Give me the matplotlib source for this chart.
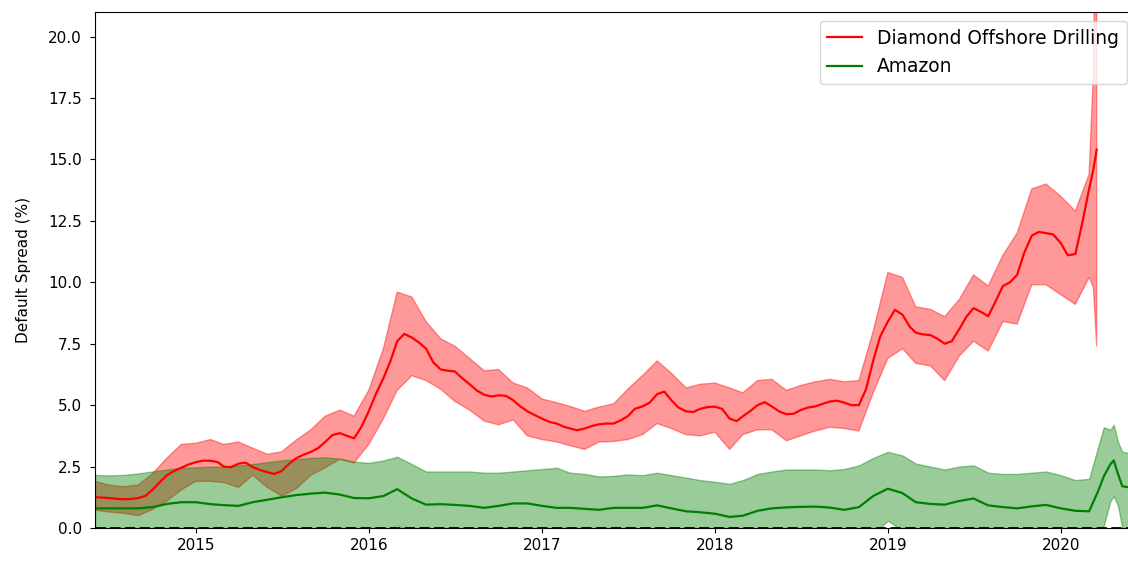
import matplotlib
matplotlib.use("Agg")
import matplotlib.pyplot as plt
import pandas as pd

# ---------------- data ----------------
red_name = "Diamond Offshore Drilling"
green_name = "Amazon"

months = [f"{y}-{m:02d}" for y in range(2014, 2021) for m in range(1, 13)]
band_months = [m for m in months if "2014-07" <= m <= "2020-03"]
line_months = [m for m in months if "2014-07" <= m <= "2020-02"]

# red line: twice a month
red_line_dates = ["2014-06-02", "2014-06-16"] + \
    [d for m in line_months for d in (m + "-01", m + "-16")] + \
    ["2020-03-01", "2020-03-10", "2020-03-17"]
red_mid = [1.25, 1.24, 1.22, 1.19, 1.17, 1.18, 1.22, 1.30, 1.55, 1.85, 2.15, 2.32, 2.45, 2.58,
           2.68, 2.74, 2.74, 2.68, 2.50, 2.47, 2.62, 2.66, 2.48, 2.36, 2.27, 2.20,
           2.32, 2.60, 2.84, 2.98, 3.10, 3.25, 3.50, 3.78, 3.86, 3.75, 3.65, 4.10,
           4.75, 5.45, 6.10, 6.80, 7.60, 7.90, 7.75, 7.55, 7.30, 6.75, 6.45, 6.40,
           6.37, 6.10, 5.85, 5.60, 5.42, 5.35, 5.40, 5.38, 5.20, 4.95, 4.75, 4.60,
           4.45, 4.32, 4.25, 4.12, 4.05, 3.98, 4.05, 4.15, 4.22, 4.25, 4.25, 4.38,
           4.55, 4.85, 4.95, 5.10, 5.45, 5.55, 5.20, 4.90, 4.75, 4.72, 4.85, 4.92,
           4.94, 4.85, 4.45, 4.35, 4.55, 4.75, 5.00, 5.12, 4.95, 4.75, 4.63, 4.65,
           4.80, 4.90, 4.95, 5.05, 5.15, 5.18, 5.10, 5.00, 5.00, 5.65, 6.80, 7.80,
           8.40, 8.88, 8.68, 8.20, 7.95, 7.88, 7.85, 7.70, 7.50, 7.60, 8.10, 8.60,
           8.95, 8.80, 8.62, 9.20, 9.85, 10.00, 10.30, 11.20, 11.90, 12.05, 12.00, 11.95,
           11.60, 11.10, 11.15, 12.45, 13.80, 14.60, 15.40]

# red band: monthly
red_band_dates = ["2014-06-02"] + [m + "-01" for m in band_months] + ["2020-03-10", "2020-03-17"]
red_hi = [1.90, 1.75, 1.68, 1.75, 2.20, 2.85, 3.40,
          3.45, 3.60, 3.40, 3.50, 3.25, 3.00, 3.10, 3.58, 4.00, 4.55, 4.80, 4.55,
          5.60, 7.30, 9.60, 9.40, 8.40, 7.70, 7.40, 6.90, 6.40, 6.45, 5.90, 5.70,
          5.25, 5.10, 4.95, 4.75, 4.92, 5.05, 5.65, 6.20, 6.80, 6.30, 5.70, 5.85,
          5.90, 5.70, 5.50, 6.00, 6.05, 5.60, 5.80, 5.95, 6.05, 5.95, 6.00, 8.00,
          10.40, 10.20, 9.00, 8.90, 8.60, 9.30, 10.30, 9.85, 11.10, 12.00, 13.80, 14.00,
          13.50, 12.90, 14.40, 18.50, 30.00]
red_lo = [0.73, 0.65, 0.60, 0.50, 0.75, 1.10, 1.55,
          1.90, 1.90, 1.85, 1.65, 2.15, 1.65, 1.30, 1.60, 2.15, 2.45, 2.80, 2.65,
          3.40, 4.45, 5.60, 6.20, 6.00, 5.65, 5.15, 4.80, 4.35, 4.20, 4.40, 3.75,
          3.60, 3.50, 3.35, 3.20, 3.50, 3.52, 3.60, 3.80, 4.25, 4.05, 3.80, 3.75,
          3.90, 3.20, 3.80, 4.00, 4.00, 3.55, 3.75, 3.95, 4.10, 4.05, 3.95, 5.50,
          6.90, 7.30, 6.70, 6.60, 6.00, 7.00, 7.60, 7.20, 8.40, 8.30, 9.90, 9.90,
          9.50, 9.10, 10.20, 9.80, 7.40]

# green: monthly plus extra points in spring 2020
green_dates = ["2014-06-02"] + [m + "-01" for m in band_months] + \
    ["2020-03-20", "2020-04-01", "2020-04-15", "2020-04-22", "2020-05-01", "2020-05-10", "2020-06-10"]
green_mid = [0.80, 0.80, 0.80, 0.80, 0.85, 0.98, 1.05,
             1.05, 0.97, 0.93, 0.90, 1.05, 1.15, 1.25, 1.34, 1.40, 1.44, 1.36, 1.22,
             1.21, 1.30, 1.58, 1.20, 0.95, 0.97, 0.94, 0.90, 0.82, 0.90, 1.00, 1.00,
             0.90, 0.82, 0.82, 0.78, 0.74, 0.82, 0.82, 0.82, 0.92, 0.80, 0.68, 0.64,
             0.58, 0.45, 0.50, 0.70, 0.80, 0.84, 0.86, 0.87, 0.83, 0.74, 0.85, 1.30,
             1.60, 1.42, 1.05, 0.98, 0.95, 1.10, 1.20, 0.92, 0.85, 0.80, 0.88, 0.94,
             0.80, 0.70, 0.68, 1.50, 2.10, 2.60, 2.75, 2.20, 1.70, 1.60]
green_hi = [2.16, 2.14, 2.16, 2.22, 2.30, 2.38, 2.45,
            2.47, 2.50, 2.50, 2.55, 2.60, 2.68, 2.75, 2.80, 2.85, 2.88, 2.82, 2.70,
            2.65, 2.75, 2.90, 2.60, 2.30, 2.30, 2.30, 2.30, 2.25, 2.25, 2.30, 2.35,
            2.40, 2.45, 2.25, 2.20, 2.10, 2.12, 2.18, 2.15, 2.25, 2.15, 2.05, 1.95,
            1.88, 1.80, 1.95, 2.20, 2.30, 2.38, 2.38, 2.38, 2.35, 2.40, 2.55, 2.85,
            3.10, 2.95, 2.62, 2.50, 2.38, 2.50, 2.55, 2.25, 2.20, 2.20, 2.25, 2.30,
            2.15, 1.95, 2.00, 3.30, 4.10, 4.00, 4.20, 3.50, 3.10, 3.00]
green_lo = [-0.56, -0.54, -0.56, -0.62, -0.60, -0.42, -0.35,
            -0.37, -0.56, -0.64, -0.75, -0.50, -0.38, -0.25, -0.12, -0.05, -0.10, -0.10, -0.26,
            -0.23, -0.15, 0.12, -0.20, -0.40, -0.36, -0.42, -0.50, -0.61, -0.45, -0.30, -0.35,
            -0.60, -0.81, -0.61, -0.64, -0.62, -0.48, -0.54, -0.51, -0.41, -0.55, -0.69, -0.67,
            -0.72, -0.90, -0.95, -0.80, -0.70, -0.70, -0.66, -0.64, -0.69, -0.92, -0.85, -0.25,
            0.30, -0.11, -0.52, -0.54, -0.48, -0.30, -0.15, -0.41, -0.50, -0.60, -0.49, -0.42,
            -0.55, -0.55, -0.60, -0.30, 0.10, 1.10, 1.30, 0.90, 0.00, -0.10]

x_start = "2014-06-02"
x_end = "2020-06-08"
y_max = 21
y_label = "Default Spread (%)"

# ---------------- plot ----------------
fig = plt.figure(figsize=(11.28, 5.61), dpi=100)
ax = fig.add_axes([95 / 1128, 33 / 561, (1136 - 95) / 1128, 516 / 561])

ax.plot(pd.to_datetime(red_line_dates), red_mid, color="red", lw=1.6, label=red_name)
ax.fill_between(pd.to_datetime(red_band_dates), red_lo, red_hi, color="red", alpha=0.4)
gd = pd.to_datetime(green_dates)
ax.plot(gd, green_mid, color="green", lw=1.6, label=green_name)
ax.fill_between(gd, green_lo, green_hi, color="green", alpha=0.4)
ax.axhline(0, color="black", ls="--", lw=2)

ax.set_xlim(pd.Timestamp(x_start), pd.Timestamp(x_end))
ax.set_ylim(0, y_max)
ax.tick_params(labelsize=11)
ax.tick_params(axis="y", pad=6)
ax.set_ylabel(y_label, fontsize=11, labelpad=12)
ax.legend(loc="upper right", fontsize=13.4, handlelength=1.9)

fig.savefig("out.png", dpi=100)
